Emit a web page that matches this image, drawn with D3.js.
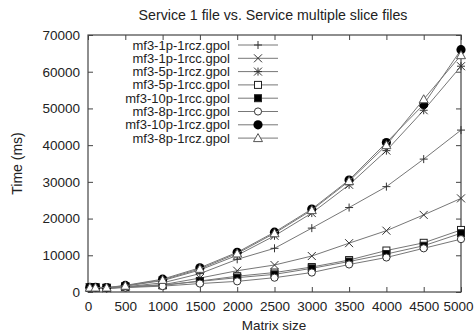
<!DOCTYPE html>
<html>
<head>
<meta charset="utf-8">
<script src="https://cdn.jsdelivr.net/npm/d3@7"></script>
<style>
  body { margin: 0; background: #fff; }
  text { font-family: "Liberation Sans", Arial, sans-serif; fill: #222; }
</style>
</head>
<body>
<script>
// matrix sizes on the x axis
const sizes = [25, 100, 250, 500, 1000, 1500, 2000, 2500, 3000, 3500, 4000, 4500, 5000];

const names = [
  "mf3-1p-1rcz.gpol", "mf3-1p-1rcc.gpol", "mf3-5p-1rcz.gpol", "mf3-5p-1rcc.gpol",
  "mf3-10p-1rcc.gpol", "mf3-8p-1rcc.gpol", "mf3-10p-1rcz.gpol", "mf3-8p-1rcz.gpol"
];
const symbols = ["plus", "cross", "star", "square", "squareFill", "circle", "circleFill", "triangle"];

// time in ms
const s1p1rcz  = [1100, 1100, 1000, 1400, 2500, 5000, 8900, 11900, 17400, 23000, 28700, 36200, 44100];
const s1p1rcc  = [1100, 1100, 1000, 1300, 2000, 3800, 5800, 7350, 9800, 13300, 16700, 21000, 25500];
const s5p1rcz  = [1200, 1200, 1100, 1600, 3100, 6000, 10000, 15300, 21500, 29200, 38500, 49500, 61500];
const s5p1rcc  = [1200, 1200, 1100, 1300, 1800, 3000, 4300, 5300, 6800, 8700, 11300, 13400, 16900];
const s10p1rcc = [1300, 1300, 1200, 1400, 1900, 2900, 3900, 4800, 6450, 8300, 10350, 12600, 16000];
const s8p1rcc  = [1100, 1100, 1000, 1200, 1600, 2300, 2900, 3900, 5300, 7500, 9400, 11900, 14400];
const s10p1rcz = [1300, 1300, 1200, 1800, 3500, 6600, 10800, 16300, 22600, 30500, 40700, 51100, 66000];
const s8p1rcz  = [1200, 1200, 1200, 1700, 3300, 6300, 10500, 16000, 22300, 30200, 40000, 52500, 64500];

const series = [s1p1rcz, s1p1rcc, s5p1rcz, s5p1rcc, s10p1rcc, s8p1rcc, s10p1rcz, s8p1rcz];

const xTicks = [0, 500, 1000, 1500, 2000, 2500, 3000, 3500, 4000, 4500, 5000];
const yTicks = [0, 10000, 20000, 30000, 40000, 50000, 60000, 70000];

const width = 475, height = 335;
const margin = { top: 35, right: 14, bottom: 43, left: 88 };

const svg = d3.select("body").append("svg")
  .attr("width", width)
  .attr("height", height);

const x = d3.scaleLinear().domain([0, 5000]).range([margin.left, width - margin.right]);
const y = d3.scaleLinear().domain([0, 70000]).range([height - margin.bottom, margin.top]);

const axisColor = "#444";
const fmt = d3.format("d");

// ticks, gnuplot style: inside and mirrored
const gx = svg.append("g")
  .attr("transform", `translate(0,${y(0)})`)
  .call(d3.axisBottom(x).tickValues(xTicks).tickFormat(fmt).tickSizeInner(-5).tickSizeOuter(0).tickPadding(9));
const gxTop = svg.append("g")
  .attr("transform", `translate(0,${y(70000)})`)
  .call(d3.axisTop(x).tickValues(xTicks).tickSizeInner(-5).tickSizeOuter(0).tickFormat(""));
const gy = svg.append("g")
  .attr("transform", `translate(${x(0)},0)`)
  .call(d3.axisLeft(y).tickValues(yTicks).tickFormat(fmt).tickSizeInner(-5).tickSizeOuter(0).tickPadding(8));
const gyRight = svg.append("g")
  .attr("transform", `translate(${x(5000)},0)`)
  .call(d3.axisRight(y).tickValues(yTicks).tickSizeInner(-5).tickSizeOuter(0).tickFormat(""));

[gx, gxTop, gy, gyRight].forEach(g => {
  g.select(".domain").remove();
  g.selectAll("line").attr("stroke", axisColor);
  g.selectAll("text").style("font-size", "13.5px").attr("fill", "#222");
});
// last x label sits flush with the right edge
gx.selectAll("text").filter(d => d === 5000)
  .attr("text-anchor", "end").attr("x", width - 2 - x(5000));

svg.append("rect")
  .attr("x", x(0)).attr("y", y(70000))
  .attr("width", x(5000) - x(0)).attr("height", y(0) - y(70000))
  .attr("fill", "none").attr("stroke", axisColor).attr("stroke-width", 1.2);

// marker drawing
function drawMarker(g, type, cx, cy) {
  const s = 4;
  if (type === "plus" || type === "star") {
    g.append("path").attr("d", `M${cx - s},${cy}H${cx + s}M${cx},${cy - s}V${cy + s}`)
      .attr("stroke", "#333").attr("fill", "none");
  }
  if (type === "cross" || type === "star") {
    g.append("path").attr("d", `M${cx - s},${cy - s}L${cx + s},${cy + s}M${cx - s},${cy + s}L${cx + s},${cy - s}`)
      .attr("stroke", "#333").attr("fill", "none");
  }
  if (type === "square" || type === "squareFill") {
    g.append("rect").attr("x", cx - 3.5).attr("y", cy - 3.5).attr("width", 7).attr("height", 7)
      .attr("fill", type === "square" ? "#fff" : "#000").attr("stroke", "#222");
  }
  if (type === "circle") {
    g.append("circle").attr("cx", cx).attr("cy", cy).attr("r", 3.6)
      .attr("fill", "#fff").attr("stroke", "#333");
  }
  if (type === "circleFill") {
    g.append("circle").attr("cx", cx).attr("cy", cy).attr("r", 4.6).attr("fill", "#000");
  }
  if (type === "triangle") {
    g.append("path").attr("d", `M${cx},${cy - 4.5}L${cx + 4.5},${cy + 3.5}L${cx - 4.5},${cy + 3.5}Z`)
      .attr("fill", "#fff").attr("stroke", "#555");
  }
}

const line = d3.line().x(d => x(d[0])).y(d => y(d[1]));

series.forEach((vals, i) => {
  const pts = sizes.map((s, j) => [s, vals[j]]);
  const g = svg.append("g");
  g.append("path").datum(pts).attr("d", line)
    .attr("fill", "none").attr("stroke", "#777").attr("stroke-width", 1);
  pts.forEach(p => drawMarker(g, symbols[i], x(p[0]), y(p[1])));
});

// legend
const legend = svg.append("g");
names.forEach((name, i) => {
  const ly = 45 + i * 13.3;
  legend.append("text").attr("x", 230).attr("y", ly).attr("dy", "0.35em")
    .attr("text-anchor", "end").style("font-size", "13px").text(name);
  legend.append("line").attr("x1", 238).attr("x2", 278).attr("y1", ly).attr("y2", ly)
    .attr("stroke", "#777");
  drawMarker(legend, symbols[i], 258, ly);
});

// title and axis labels
svg.append("text").attr("x", 273).attr("y", 20).attr("text-anchor", "middle")
  .style("font-size", "14.2px").text("Service 1 file vs. Service multiple slice files");
svg.append("text").attr("x", 274).attr("y", 330).attr("text-anchor", "middle")
  .style("font-size", "13.5px").text("Matrix size");
svg.append("text").attr("transform", `translate(22,${(y(0) + y(70000)) / 2}) rotate(-90)`)
  .attr("text-anchor", "middle").style("font-size", "14px").text("Time (ms)");
</script>
</body>
</html>
